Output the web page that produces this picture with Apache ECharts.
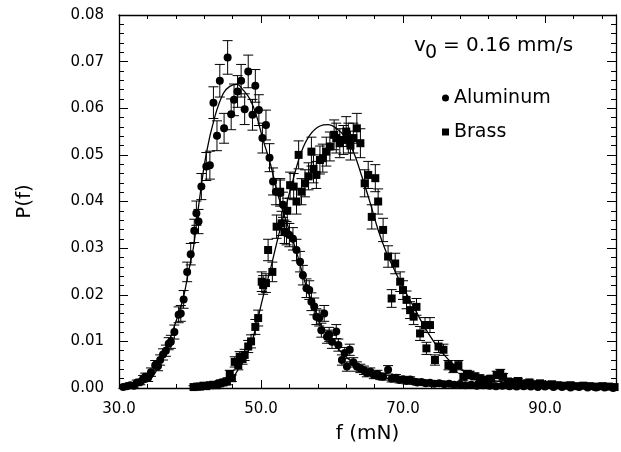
<!DOCTYPE html>
<html>
<head>
<meta charset="utf-8">
<script src="https://cdn.jsdelivr.net/npm/echarts@6/dist/echarts.min.js"></script>
<style>
  html, body { margin: 0; padding: 0; background: #fff; }
  #chart { width: 621px; height: 452px; }
</style>
</head>
<body>
<div id="chart"></div>
<script>
// measured points: [f (mN), P(f), error]
const aluminum = [
  [30.6, 0.0002, 0.0004], [31.1, 0.0004, 0.0004], [31.6, 0.0006, 0.0005], [32.1, 0.0005, 0.0005],
  [32.5, 0.0011, 0.0006], [33.0, 0.0013, 0.0006], [33.4, 0.0020, 0.0007], [33.7, 0.0024, 0.0008],
  [34.1, 0.0022, 0.0008], [34.5, 0.0034, 0.0009], [35.1, 0.0049, 0.0010], [35.5, 0.0047, 0.0010],
  [35.8, 0.0060, 0.0011], [36.2, 0.0072, 0.0012], [36.6, 0.0080, 0.0012], [37.0, 0.0095, 0.0013],
  [37.3, 0.0099, 0.0014], [37.8, 0.0120, 0.0015], [38.4, 0.0157, 0.0017], [38.7, 0.0160, 0.0017],
  [39.1, 0.0190, 0.0019], [39.6, 0.0249, 0.0021], [40.1, 0.0287, 0.0023], [40.6, 0.0337, 0.0025],
  [40.9, 0.0375, 0.0026], [41.2, 0.0357, 0.0026], [41.6, 0.0432, 0.0028], [42.3, 0.0475, 0.0030],
  [42.8, 0.0478, 0.0030], [43.3, 0.0612, 0.0034], [43.8, 0.0541, 0.0032], [44.2, 0.0659, 0.0035],
  [44.8, 0.0557, 0.0032], [45.3, 0.0709, 0.0036], [45.8, 0.0587, 0.0033], [46.2, 0.0618, 0.0034],
  [46.7, 0.0636, 0.0034], [47.2, 0.0659, 0.0035], [47.7, 0.0598, 0.0033], [48.2, 0.0679, 0.0035],
  [48.8, 0.0586, 0.0033], [49.2, 0.0648, 0.0035], [49.7, 0.0596, 0.0033], [50.2, 0.0536, 0.0032],
  [50.7, 0.0564, 0.0032], [51.2, 0.0494, 0.0030], [51.7, 0.0443, 0.0029], [52.1, 0.0421, 0.0028],
  [52.7, 0.0418, 0.0028], [53.1, 0.0393, 0.0027], [53.6, 0.0332, 0.0025], [54.0, 0.0328, 0.0025],
  [54.5, 0.0320, 0.0024], [55.0, 0.0296, 0.0023], [55.5, 0.0271, 0.0022], [55.9, 0.0242, 0.0021],
  [56.4, 0.0214, 0.0020], [56.8, 0.0210, 0.0020], [57.1, 0.0185, 0.0019], [57.5, 0.0175, 0.0018],
  [57.8, 0.0153, 0.0017], [58.2, 0.0150, 0.0017], [58.5, 0.0124, 0.0015], [58.9, 0.0160, 0.0017],
  [59.3, 0.0110, 0.0014], [59.6, 0.0115, 0.0015], [60.0, 0.0099, 0.0014], [60.6, 0.0121, 0.0015],
  [60.9, 0.0092, 0.0013], [61.4, 0.0060, 0.0011], [61.8, 0.0075, 0.0012], [62.1, 0.0046, 0.0010],
  [62.5, 0.0082, 0.0012], [63.0, 0.0055, 0.0010], [63.5, 0.0046, 0.0010], [64.0, 0.0042, 0.0009],
  [64.5, 0.0038, 0.0009], [64.9, 0.0032, 0.0008], [65.4, 0.0035, 0.0008], [65.9, 0.0028, 0.0008],
  [66.4, 0.0030, 0.0008], [66.8, 0.0025, 0.0007], [67.2, 0.0024, 0.0007], [67.9, 0.0039, 0.0009],
  [68.4, 0.0020, 0.0007], [69.0, 0.0022, 0.0007], [69.5, 0.0017, 0.0006], [70.0, 0.0019, 0.0006],
  [70.5, 0.0015, 0.0006], [71.0, 0.0018, 0.0006], [71.5, 0.0014, 0.0006], [72.0, 0.0012, 0.0005],
  [72.6, 0.0013, 0.0005], [73.2, 0.0010, 0.0005], [73.8, 0.0011, 0.0005], [74.4, 0.0009, 0.0005],
  [75.1, 0.0010, 0.0005], [75.8, 0.0008, 0.0004], [76.5, 0.0009, 0.0004], [77.2, 0.0007, 0.0004],
  [78.0, 0.0008, 0.0004], [78.8, 0.0006, 0.0004], [79.6, 0.0007, 0.0004], [80.4, 0.0005, 0.0004],
  [81.3, 0.0006, 0.0004], [82.2, 0.0005, 0.0004], [83.1, 0.0004, 0.0003], [84.0, 0.0005, 0.0003],
  [85.0, 0.0004, 0.0003], [86.0, 0.0003, 0.0003], [87.0, 0.0004, 0.0003], [88.0, 0.0003, 0.0003],
  [89.0, 0.0002, 0.0003], [90.0, 0.0003, 0.0003], [91.2, 0.0002, 0.0003], [92.4, 0.0002, 0.0002],
  [93.6, 0.0001, 0.0002], [94.8, 0.0002, 0.0002], [96.0, 0.0001, 0.0002], [97.2, 0.0001, 0.0002],
  [98.4, 0.0001, 0.0002], [99.6, 0.0000, 0.0002]
];

const brass = [
  [40.5, 0.0002, 0.0003], [41.0, 0.0003, 0.0003], [41.4, 0.0003, 0.0004], [41.9, 0.0005, 0.0004],
  [42.3, 0.0004, 0.0004], [42.8, 0.0006, 0.0005], [43.3, 0.0007, 0.0005], [43.7, 0.0006, 0.0005],
  [44.2, 0.0010, 0.0006], [44.7, 0.0012, 0.0006], [45.2, 0.0014, 0.0007], [45.6, 0.0030, 0.0008],
  [45.9, 0.0021, 0.0007], [46.3, 0.0056, 0.0011], [46.8, 0.0049, 0.0010], [47.0, 0.0067, 0.0011],
  [47.4, 0.0062, 0.0011], [47.7, 0.0071, 0.0012], [48.2, 0.0089, 0.0013], [48.6, 0.0100, 0.0014],
  [49.2, 0.0131, 0.0016], [49.6, 0.0150, 0.0017], [50.1, 0.0228, 0.0021], [50.3, 0.0221, 0.0020],
  [50.7, 0.0225, 0.0020], [51.0, 0.0296, 0.0023], [51.6, 0.0249, 0.0021], [52.2, 0.0346, 0.0025],
  [52.7, 0.0421, 0.0028], [52.9, 0.0353, 0.0026], [53.3, 0.0335, 0.0025], [53.7, 0.0380, 0.0027],
  [54.1, 0.0435, 0.0028], [54.6, 0.0432, 0.0028], [55.0, 0.0400, 0.0027], [55.3, 0.0500, 0.0030],
  [55.7, 0.0421, 0.0028], [56.2, 0.0439, 0.0029], [56.7, 0.0454, 0.0029], [57.1, 0.0507, 0.0031],
  [57.4, 0.0470, 0.0030], [57.8, 0.0457, 0.0029], [58.3, 0.0489, 0.0030], [58.7, 0.0493, 0.0030],
  [59.2, 0.0507, 0.0031], [59.7, 0.0518, 0.0031], [60.3, 0.0543, 0.0032], [60.6, 0.0536, 0.0032],
  [61.1, 0.0525, 0.0031], [61.6, 0.0532, 0.0031], [62.0, 0.0550, 0.0032], [62.3, 0.0536, 0.0032],
  [62.6, 0.0520, 0.0031], [63.0, 0.0536, 0.0032], [63.5, 0.0557, 0.0032], [64.0, 0.0525, 0.0031],
  [64.6, 0.0439, 0.0029], [65.1, 0.0457, 0.0029], [65.6, 0.0367, 0.0026], [66.1, 0.0450, 0.0029],
  [66.5, 0.0400, 0.0027], [67.2, 0.0339, 0.0025], [67.9, 0.0282, 0.0023], [68.4, 0.0192, 0.0019],
  [68.9, 0.0267, 0.0022], [69.6, 0.0228, 0.0021], [70.0, 0.0210, 0.0020], [70.5, 0.0189, 0.0019],
  [71.0, 0.0167, 0.0018], [71.5, 0.0153, 0.0017], [71.9, 0.0174, 0.0018], [72.4, 0.0117, 0.0015],
  [73.1, 0.0135, 0.0016], [73.3, 0.0085, 0.0013], [73.8, 0.0135, 0.0016], [74.5, 0.0060, 0.0011],
  [75.0, 0.0089, 0.0013], [75.7, 0.0082, 0.0012], [76.4, 0.0049, 0.0010], [77.1, 0.0042, 0.0009],
  [77.8, 0.0049, 0.0010], [78.5, 0.0024, 0.0007], [79.0, 0.0030, 0.0008], [79.4, 0.0028, 0.0008],
  [80.1, 0.0025, 0.0007], [80.8, 0.0021, 0.0007], [81.3, 0.0018, 0.0006], [81.8, 0.0017, 0.0006],
  [82.4, 0.0020, 0.0007], [83.2, 0.0028, 0.0008], [83.7, 0.0032, 0.0008], [84.1, 0.0024, 0.0007],
  [84.8, 0.0014, 0.0006], [85.5, 0.0012, 0.0005], [86.2, 0.0015, 0.0006], [87.0, 0.0010, 0.0005],
  [87.8, 0.0012, 0.0005], [88.5, 0.0008, 0.0004], [89.3, 0.0010, 0.0005], [90.1, 0.0007, 0.0004],
  [91.0, 0.0008, 0.0004], [91.8, 0.0006, 0.0004], [92.7, 0.0005, 0.0004], [93.6, 0.0006, 0.0004],
  [94.5, 0.0004, 0.0003], [95.4, 0.0005, 0.0003], [96.3, 0.0004, 0.0003], [97.2, 0.0003, 0.0003],
  [98.1, 0.0004, 0.0003], [99.0, 0.0003, 0.0003], [99.8, 0.0002, 0.0003]
];

// fitted curves
const aluminumFit = [
  [30.5, 0.0000], [31.5, 0.0002], [32.5, 0.0006], [33.5, 0.0011], [34.4, 0.0018], [35.3, 0.0038],
  [36.2, 0.0067], [37.0, 0.0098], [37.6, 0.0124], [38.4, 0.0160], [39.1, 0.0196], [39.8, 0.0250],
  [40.5, 0.0303], [41.2, 0.0389], [42.3, 0.0503], [43.5, 0.0582], [44.7, 0.0632], [45.6, 0.0647],
  [46.6, 0.0651], [47.5, 0.0639], [48.5, 0.0618], [49.4, 0.0582], [50.3, 0.0532], [51.3, 0.0482],
  [52.2, 0.0425], [53.1, 0.0378], [54.0, 0.0338], [55.0, 0.0292], [56.4, 0.0217], [57.8, 0.0160],
  [58.5, 0.0133], [60.6, 0.0089], [62.5, 0.0060], [64.9, 0.0039], [67.7, 0.0021], [71.9, 0.0010],
  [76.6, 0.0004], [85.0, 0.0001], [100.0, 0.0000]
];

const brassFit = [
  [40.0, 0.0000], [42.0, 0.0002], [44.0, 0.0005], [45.6, 0.0014], [47.0, 0.0046], [48.5, 0.0089],
  [49.4, 0.0139], [50.3, 0.0196], [51.3, 0.0253], [52.2, 0.0310], [53.1, 0.0365], [54.5, 0.0446],
  [55.7, 0.0507], [56.9, 0.0543], [58.3, 0.0562], [59.5, 0.0565], [60.6, 0.0557], [61.8, 0.0539],
  [63.0, 0.0507], [64.2, 0.0454], [65.4, 0.0396], [66.5, 0.0339], [67.7, 0.0289], [68.9, 0.0250],
  [69.6, 0.0228], [71.5, 0.0174], [73.3, 0.0124], [75.2, 0.0082], [77.5, 0.0046], [80.4, 0.0024],
  [84.6, 0.0012], [90.0, 0.0006], [100.0, 0.0002]
];

const xTicks = { min: 30, max: 100, interval: 20 };
const yTicks = { min: 0, max: 0.08, interval: 0.01 };

const FONT = "DejaVu Sans";

var chart = echarts.init(document.getElementById("chart"));

function errorBars(params, api) {
  const x = api.value(0);
  const y = api.value(1);
  const e = api.value(2);
  const hi = api.coord([x, y + e]);
  const lo = api.coord([x, y - e]);
  const w = 5;
  const style = { stroke: "#000", lineWidth: 1 };
  return {
    type: "group",
    children: [
      { type: "line", shape: { x1: hi[0], y1: hi[1], x2: lo[0], y2: lo[1] }, style: style },
      { type: "line", shape: { x1: hi[0] - w, y1: hi[1], x2: hi[0] + w, y2: hi[1] }, style: style },
      { type: "line", shape: { x1: lo[0] - w, y1: lo[1], x2: lo[0] + w, y2: lo[1] }, style: style },
    ],
  };
}

function xAxisBase(pos, showLabel) {
  return {
    type: "value",
    position: pos,
    min: xTicks.min,
    max: xTicks.max,
    interval: xTicks.interval,
    axisLine: { onZero: false, lineStyle: { color: "#000", width: 1.3 } },
    axisTick: { inside: true, length: 8, lineStyle: { color: "#000", width: 1 } },
    minorTick: { show: true, splitNumber: 5, length: 4, lineStyle: { color: "#000", width: 1 } },
    splitLine: { show: false },
    axisLabel: {
      show: showLabel,
      showMaxLabel: false,
      margin: 14,
      color: "#000",
      fontFamily: FONT,
      fontSize: 15,
      formatter: (v) => v.toFixed(1),
    },
  };
}

function yAxisBase(pos, showLabel) {
  return {
    type: "value",
    position: pos,
    min: yTicks.min,
    max: yTicks.max,
    interval: yTicks.interval,
    axisLine: { onZero: false, lineStyle: { color: "#000", width: 1.3 } },
    axisTick: { inside: true, length: 9, lineStyle: { color: "#000", width: 1 } },
    minorTick: { show: true, splitNumber: 5, length: 5, lineStyle: { color: "#000", width: 1 } },
    splitLine: { show: false },
    axisLabel: {
      show: showLabel,
      margin: 15,
      color: "#000",
      fontFamily: FONT,
      fontSize: 15,
      formatter: (v) => v.toFixed(2),
    },
  };
}

const xBottom = xAxisBase("bottom", true);
xBottom.name = "f (mN)";
xBottom.nameLocation = "middle";
xBottom.nameGap = 36;
xBottom.nameTextStyle = { color: "#000", fontFamily: FONT, fontSize: 20 };

const yLeft = yAxisBase("left", true);
yLeft.name = "P(f)";
yLeft.nameLocation = "middle";
yLeft.nameGap = 84;
yLeft.nameTextStyle = { color: "#000", fontFamily: FONT, fontSize: 20 };

const option = {
  backgroundColor: "#fff",
  animation: false,
  grid: { left: 119, right: 5, top: 15, bottom: 64 },
  xAxis: [xBottom, xAxisBase("top", false)],
  yAxis: [yLeft, yAxisBase("right", false)],
  legend: {
    orient: "vertical",
    left: 437,
    top: 82,
    itemWidth: 7,
    itemHeight: 7,
    itemGap: 12,
    textStyle: { color: "#000", fontFamily: FONT, fontSize: 19, lineHeight: 22 },
    data: [
      { name: "Aluminum", icon: "circle" },
      { name: "Brass", icon: "rect" },
    ],
  },
  graphic: [
    { type: "text", left: 414, top: 36, style: { text: "v", font: "20px " + FONT, fill: "#000" } },
    { type: "text", left: 425, top: 44, style: { text: "0", font: "19px " + FONT, fill: "#000" } },
    { type: "text", left: 443, top: 36, style: { text: "= 0.16 mm/s", font: "20px " + FONT, fill: "#000" } },
  ],
  series: [
    {
      name: "Aluminum fit",
      type: "line",
      data: aluminumFit,
      smooth: 0.4,
      showSymbol: false,
      lineStyle: { color: "#000", width: 1.3 },
      z: 3,
    },
    {
      name: "Brass fit",
      type: "line",
      data: brassFit,
      smooth: 0.4,
      showSymbol: false,
      lineStyle: { color: "#000", width: 1.3 },
      z: 3,
    },
    {
      name: "Aluminum err",
      type: "custom",
      data: aluminum,
      renderItem: errorBars,
      encode: { x: 0, y: 1 },
      clip: true,
      z: 2,
    },
    {
      name: "Brass err",
      type: "custom",
      data: brass,
      renderItem: errorBars,
      encode: { x: 0, y: 1 },
      clip: true,
      z: 2,
    },
    {
      name: "Aluminum",
      type: "scatter",
      data: aluminum.map((d) => [d[0], d[1]]),
      symbol: "circle",
      symbolSize: 8,
      itemStyle: { color: "#000", opacity: 1 },
      z: 4,
    },
    {
      name: "Brass",
      type: "scatter",
      data: brass.map((d) => [d[0], d[1]]),
      symbol: "rect",
      symbolSize: 8,
      itemStyle: { color: "#000", opacity: 1 },
      z: 4,
    },
  ],
};

chart.setOption(option);
</script>
</body>
</html>
